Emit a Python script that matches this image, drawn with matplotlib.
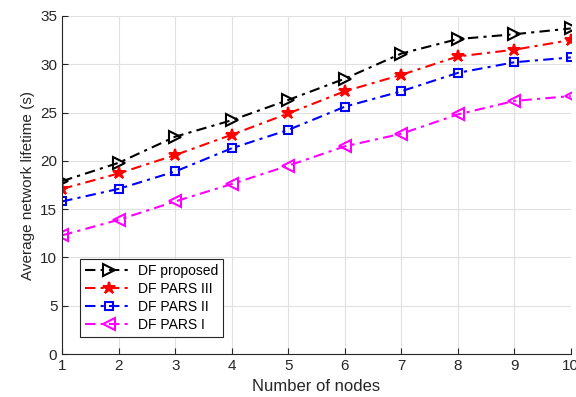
import matplotlib
matplotlib.use("Agg")
import matplotlib.pyplot as plt

nodes = [1, 2, 3, 4, 5, 6, 7, 8, 9, 10]
df_proposed = [17.9, 19.8, 22.5, 24.2, 26.3, 28.5, 31.1, 32.6, 33.1, 33.7]
df_pars_3 = [17.1, 18.7, 20.6, 22.7, 24.9, 27.2, 28.9, 30.8, 31.5, 32.5]
df_pars_2 = [15.8, 17.1, 18.9, 21.3, 23.2, 25.6, 27.2, 29.1, 30.2, 30.7]
df_pars_1 = [12.3, 13.9, 15.8, 17.6, 19.5, 21.5, 22.8, 24.8, 26.2, 26.7]

plt.rcParams['font.family'] = ['Liberation Sans', 'DejaVu Sans']

fig = plt.figure(figsize=(5.76, 3.97), dpi=100)
ax = fig.add_axes([0.108, 0.108, 0.883, 0.852])

dash = (5, 2.5, 1.5, 2.5)
ax.plot(nodes, df_proposed, color='black', marker='>', mfc='none', dashes=dash,
        ms=8, mew=1.5, lw=1.5, label='DF proposed')
ax.plot(nodes, df_pars_3, color='red', marker='*', mfc='red', dashes=dash,
        ms=9, mew=1.5, lw=1.5, label='DF PARS III')
ax.plot(nodes, df_pars_2, color='blue', marker='s', mfc='none', dashes=dash,
        ms=6, mew=1.5, lw=1.5, label='DF PARS II')
ax.plot(nodes, df_pars_1, color='magenta', marker='<', mfc='none', dashes=dash,
        ms=8, mew=1.5, lw=1.5, label='DF PARS I')

ax.set_xlim(1, 10)
ax.set_ylim(0, 35)
ax.set_xticks(nodes)
ax.set_yticks(range(0, 36, 5))
ax.grid(True, color='#e0e0e0', lw=0.8)
ax.set_axisbelow(True)
for s in ['top', 'right']:
    ax.spines[s].set_visible(False)
for s in ['left', 'bottom']:
    ax.spines[s].set_color('#262626')
ax.tick_params(labelsize=11, colors='#262626', direction='in', length=4)

ax.set_xlabel('Number of nodes', fontsize=12, color='#262626')
ax.set_ylabel('Average network lifetime (s)', fontsize=11, color='#262626')

leg = ax.legend(loc='lower left', bbox_to_anchor=(0.022, 0.03), fontsize=10,
                fancybox=False, edgecolor='#262626', framealpha=1,
                handlelength=3.4, handletextpad=0.4, borderpad=0.35,
                labelspacing=0.3)
leg.get_frame().set_linewidth(0.8)

fig.savefig('out.png', dpi=100)
